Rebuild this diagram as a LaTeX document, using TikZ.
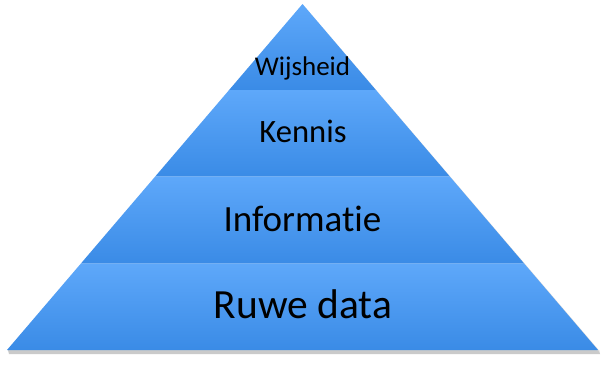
\documentclass[tikz,border=0pt]{standalone}
\usepackage{fontspec}
\setmainfont{Carlito}[RawFeature=-liga]
\definecolor{laytop}{RGB}{94,168,250}
\definecolor{laybot}{RGB}{58,139,230}
\definecolor{shadowgray}{RGB}{180,180,180}
\begin{document}
\begin{tikzpicture}[x=1pt,y=-1pt,
  layer/.style={top color=laytop,bottom color=laybot,draw=none},
  lbl/.style={anchor=base,inner sep=0pt,text=black}]
\useasboundingbox (0,0) rectangle (606,367);
% shadow
\fill[shadowgray!70] (8,350) -- (599,350) -- (600,354) -- (9,354) -- cycle;
\fill[shadowgray!50] (302.5,4) -- (599.5,351) -- (598,351) -- cycle;
% layers
\shade[layer] (302.5,4) -- (375.9,90) -- (229.1,90) -- cycle;
\shade[layer] (229.1,90) -- (375.9,90) -- (449.8,176.5) -- (155.2,176.5) -- cycle;
\shade[layer] (155.2,176.5) -- (449.8,176.5) -- (524.1,263.5) -- (80.9,263.5) -- cycle;
\shade[layer] (80.9,263.5) -- (524.1,263.5) -- (598,350) -- (7,350) -- cycle;
% labels
\node[lbl,font=\fontsize{27}{32}\selectfont] (wijsheid) at (302.5,75.5) {Wijsheid};
\node[lbl,font=\fontsize{32.6}{38}\selectfont] (kennis) at (303,142.7) {Kennis};
\node[lbl,font=\fontsize{37}{44}\selectfont] (informatie) at (302.5,231) {Informatie};
\node[lbl,font=\fontsize{41.5}{50}\selectfont] (ruwe) at (303,318.3) {Ruwe data};
\end{tikzpicture}
\end{document}
